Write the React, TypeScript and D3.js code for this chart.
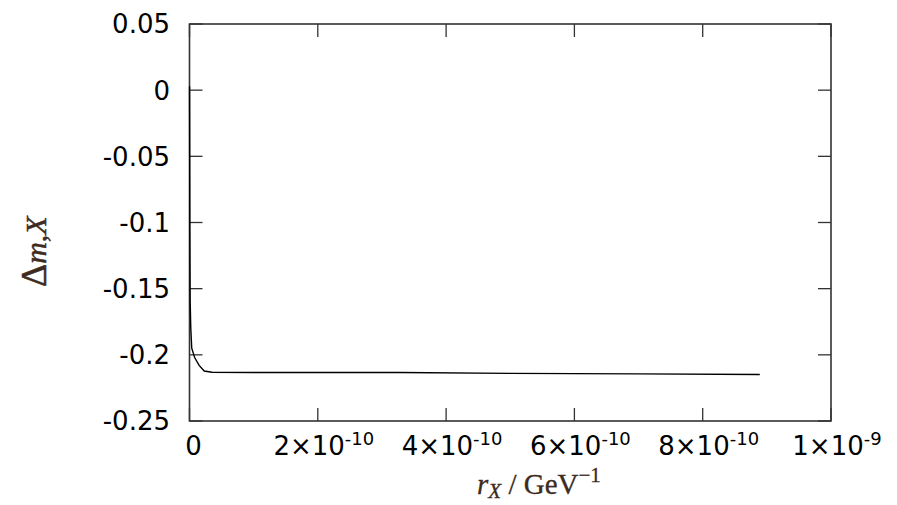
import React from 'react'
import * as d3 from 'd3'

// curve (x in GeV^-1)
const rX = [0.05e-12, 0.5e-12, 1e-12, 2e-12, 3.5e-12, 8e-12, 15e-12, 23e-12, 35e-12, 100e-12, 328e-12, 500e-12, 700e-12, 889e-12]
const delta = [0.003, -0.1, -0.159, -0.18, -0.195, -0.202, -0.208, -0.2122, -0.2132, -0.2133, -0.2134, -0.214, -0.2144, -0.2149]

const yTicks = [0.05, 0, -0.05, -0.1, -0.15, -0.2, -0.25]
const xTicks = [0, 2e-10, 4e-10, 6e-10, 8e-10, 1e-9]
const xMant = ['0', '2', '4', '6', '8', '1']
const xExp = ['', '-10', '-10', '-10', '-10', '-9']

const W = 897
const H = 505
const m = { left: 189.5, right: 831, top: 24, bottom: 421 }
const sans = '"DejaVu Sans", Verdana, sans-serif'
const serif = '"Liberation Serif", "Times New Roman", serif'
const labelColor = '#3d2a20'

export default function App() {
  const x = d3.scaleLinear().domain([0, 1e-9]).range([m.left, m.right])
  const y = d3.scaleLinear().domain([-0.25, 0.05]).range([m.bottom, m.top])
  const pts: [number, number][] = rX.map((v, i) => [v, delta[i]])
  const line = d3.line<[number, number]>().x(d => x(d[0])).y(d => y(d[1]))
  const tk = 13

  return (
    <svg width={W} height={H} style={{ position: 'absolute', left: 0, top: 0, background: '#fff' }}>
      {yTicks.map((t, i) => (
        <g key={'y' + i}>
          <line x1={m.left} x2={m.left + tk} y1={y(t)} y2={y(t)} stroke="#333" strokeWidth={1.3} />
          <line x1={m.right} x2={m.right - tk} y1={y(t)} y2={y(t)} stroke="#333" strokeWidth={1.3} />
          <text x={170} y={y(t)} dy="0.36em" textAnchor="end" fontFamily={sans} fontSize={26} fill="#000">{String(t)}</text>
        </g>
      ))}
      {xTicks.map((t, i) => (
        <g key={'x' + i}>
          <line x1={x(t)} x2={x(t)} y1={m.bottom} y2={m.bottom - tk} stroke="#333" strokeWidth={1.3} />
          <line x1={x(t)} x2={x(t)} y1={m.top} y2={m.top + tk} stroke="#333" strokeWidth={1.3} />
          <text x={x(t) + (i === 0 ? 4 : 6)} y={455} textAnchor="middle" fontFamily={sans} fontSize={26} fill="#000">
            {xExp[i] ? xMant[i] + '×10' : xMant[i]}
            {xExp[i] ? <tspan fontSize={18} dy={-10}>{xExp[i]}</tspan> : null}
          </text>
        </g>
      ))}
      <rect x={m.left} y={m.top} width={m.right - m.left} height={m.bottom - m.top} fill="none" stroke="#333" strokeWidth={1.6} />
      <path d={line(pts) || ''} fill="none" stroke="#000" strokeWidth={1.4} />
      <text transform="translate(46,287) rotate(-90)" fontFamily={serif} fill={labelColor} stroke={labelColor} strokeWidth={0.5}>
        <tspan fontSize={36}>Δ</tspan>
        <tspan fontSize={30} fontStyle="italic">m</tspan>
        <tspan fontSize={30}>,</tspan>
        <tspan fontSize={30} fontStyle="italic">X</tspan>
      </text>
      <text x={477} y={494} fontFamily={serif} fill={labelColor} fontSize={29} stroke={labelColor} strokeWidth={0.3}>
        <tspan fontStyle="italic">r</tspan>
        <tspan fontStyle="italic" fontSize={21} dy={4}>X</tspan>
        <tspan dy={-4}> / GeV</tspan>
        <tspan fontSize={21} dy={-12}>−1</tspan>
      </text>
    </svg>
  )
}
